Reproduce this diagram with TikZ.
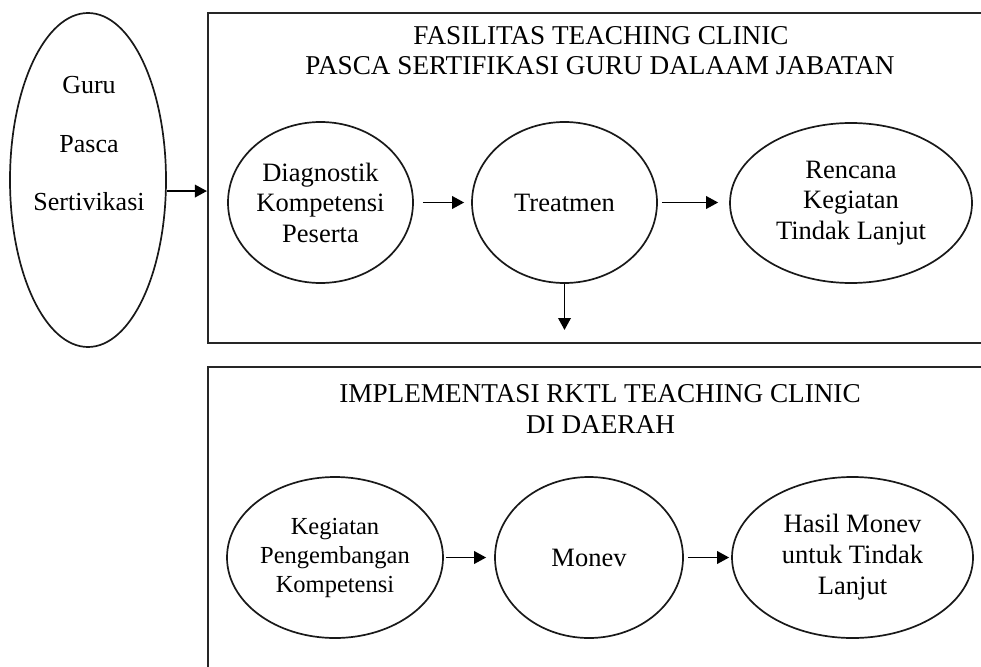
\documentclass[tikz,border=0pt]{standalone}
\usepackage{fontspec}
\setmainfont{Liberation Serif}
\usetikzlibrary{shapes.geometric,arrows.meta}
\begin{document}
\begin{tikzpicture}[x=1pt,y=-1pt,
  oval/.style={draw=black!90, ellipse, line width=1.7pt, inner sep=0pt, align=center, font=\fontsize{26.5}{30.5}\selectfont},
  frame/.style={draw=black!85, rectangle, line width=2.1pt, inner sep=0pt},
  arr/.style={line width=1.9pt, -{Triangle[length=12pt,width=12.5pt]}},
  ttl/.style={inner sep=0pt, anchor=base, font=\fontsize{27.2}{30}\selectfont}]
\useasboundingbox (0,0) rectangle (981,666);
\fill[white] (0,0) rectangle (981,666);
\clip (0,0) rectangle (981,666);

% frames
\node[frame, minimum width=787pt, minimum height=330pt] (box1) at (601.5,178) {};
\node[frame, minimum width=787pt, minimum height=340pt] (box2) at (601.5,537) {};

% titles
\node[ttl] (t1a) at (601,45) {FASILITAS TEACHING CLINIC};
\node[ttl] (t1b) at (600,75) {PASCA SERTIFIKASI GURU DALAAM JABATAN};
\node[ttl] (t2a) at (600,402) {IMPLEMENTASI RKTL TEACHING CLINIC};
\node[ttl] (t2b) at (600.5,433) {DI DAERAH};

% left ellipse
\node[oval, minimum width=156pt, minimum height=334pt] (guru) at (88,180) {};
\node[align=center, inner sep=0pt, font=\fontsize{26}{58.5}\selectfont] (gurutext) at (89,144) {Guru\\Pasca\\Sertivikasi};

% top row
\node[oval, minimum width=185pt, minimum height=161pt] (diag) at (320.5,202.5) {Diagnostik\\Kompetensi\\Peserta};
\node[oval, minimum width=185pt, minimum height=161pt] (treat) at (564.5,202.5) {Treatmen};
\node[oval, minimum width=242pt, minimum height=160pt] (renc) at (851,203) {Rencana\\Kegiatan\\Tindak Lanjut};

% bottom row
\node[oval, minimum width=216pt, minimum height=161pt, font=\fontsize{24.5}{29}\selectfont] (keg) at (335,557.5) {Kegiatan\\Pengembangan\\Kompetensi};
\node[oval, minimum width=188pt, minimum height=161pt] (mon) at (589,557.5) {Monev};
\node[oval, minimum width=241pt, minimum height=161pt, font=\fontsize{26.5}{31}\selectfont] (hasil) at (852.5,557.5) {Hasil Monev\\untuk Tindak\\Lanjut};

% connectors
\coordinate (down) at (564.5,330);
\draw[arr] (guru.-8.8) -- (guru.-8.8 -| box1.west);
\draw[arr, shorten <=9pt, shorten >=7pt] (diag.east) -- (diag.east -| treat.west);
\draw[arr, shorten <=4pt, shorten >=11pt] (treat.east) -- (treat.east -| renc.west);
\draw[arr] (treat.south) -- (down);
\draw[arr, shorten <=2pt, shorten >=8pt] (keg.east) -- (keg.east -| mon.west);
\draw[arr, shorten <=4pt, shorten >=2pt] (mon.east) -- (mon.east -| hasil.west);
\end{tikzpicture}
\end{document}
